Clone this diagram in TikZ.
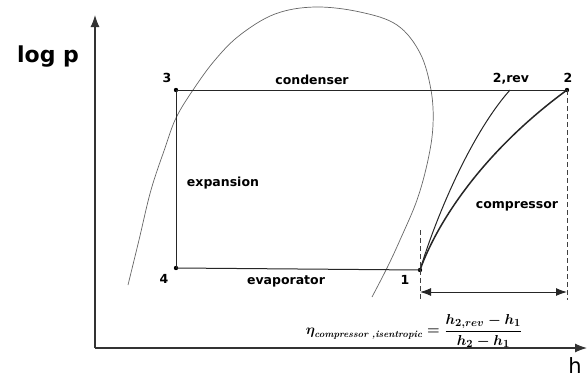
\documentclass[tikz,border=0pt]{standalone}
\usepackage{amsmath}
\usepackage{fontspec}
\setsansfont{DejaVu Sans}
\usetikzlibrary{arrows.meta}

\begin{document}
\begin{tikzpicture}[x=1pt,y=-1pt,font=\sffamily,>=Latex,
 axis/.style={draw=black!80,line width=1.1pt},
 cycle/.style={draw=black!85,line width=1pt},
 dome/.style={draw=black!60,line width=0.7pt},
 guide/.style={draw=black!75,line width=0.9pt,dash pattern=on 5pt off 3pt},
 dot/.style={circle,fill=black,inner sep=0pt,minimum size=4.4pt},
 lbl/.style={font=\sffamily\bfseries\fontsize{12.5}{14}\selectfont,inner sep=1pt},
 eqn/.style={font=\fontsize{15}{17}\selectfont\boldmath}]
\useasboundingbox (0,0) rectangle (587,378);
% axes
\coordinate (o) at (95,348);
\coordinate (ytip) at (95,15);
\coordinate (xtip) at (587,348);
\draw[axis,-{Latex[length=12pt,width=9pt]}] (o)--(ytip);
\draw[axis,-{Latex[length=12pt,width=9pt]}] (o)--(xtip);
\node[font=\sffamily\bfseries\fontsize{22}{24}\selectfont] (logp) at (48,57) {log p};
\node[font=\sffamily\fontsize{21}{23}\selectfont] (haxis) at (575,366) {h};
% saturation dome
\draw[dome] plot[smooth,tension=0.6] coordinates {(128,285) (139,240) (151,190) (165,148) (176,118) (193,90) (215,60) (240,35) (275,14) (315,7) (360,12) (397,25) (420,53) (431,90) (433,125) (428,160) (417,200) (400,240) (387,268) (372,297)};
% cycle points
\node[dot] (p3) at (176,90) {};
\node[dot] (p4) at (176,268) {};
\node[dot] (p1) at (420,270) {};
\node[dot] (p2) at (567,90) {};
\coordinate (p2r) at (510,90);
\draw[cycle] (p3.center)--(p2.center);
\draw[cycle] (p3.center)--(p4.center);
\draw[cycle] (p4.center)--(p1.center);
\draw[cycle] (p1.center) .. controls (435,220) and (470,135) .. (p2r);
\draw[cycle,line width=1.5pt] (p1.center) .. controls (438,220) and (485,150) .. (p2.center);
% labels
\node[lbl] (l3) at (167,78) {3};
\node[lbl] (l4) at (164,279) {4};
\node[lbl] (l1) at (405,280) {1};
\node[lbl] (l2) at (568,78) {2};
\node[lbl] (l2r) at (511,79) {2,rev};
\node[lbl] (cond) at (312,80) {condenser};
\node[lbl] (expa) at (223,183) {expansion};
\node[lbl] (evap) at (286,281) {evaporator};
\node[lbl] (comp) at (517,206) {compressor};
% enthalpy difference
\coordinate (g1) at (420,230);
\coordinate (g1b) at (420,300);
\coordinate (g2b) at (567,300);
\coordinate (d1) at (420,292);
\coordinate (d2) at (567,292);
\draw[guide] (g1)--(g1b);
\draw[guide] (p2.center)--(g2b);
\draw[line width=1pt,black!85,{Latex[length=11pt,width=8pt]}-{Latex[length=11pt,width=8pt]}] (d1)--(d2);
\node[eqn] (eta) at (414,331) {$\eta_{\text{\fontsize{9.5}{11}\selectfont\bfseries\itshape compressor ,isentropic}}=\dfrac{h_{2,rev}-h_1}{h_2-h_1}$};
\end{tikzpicture}
\end{document}
